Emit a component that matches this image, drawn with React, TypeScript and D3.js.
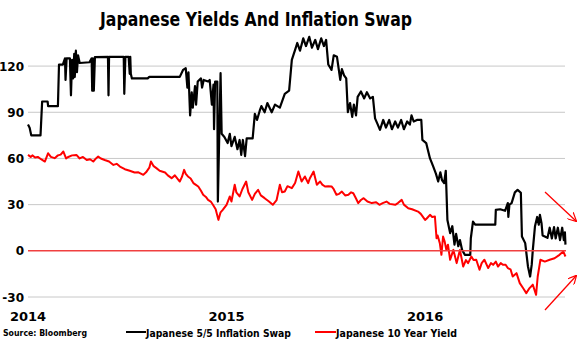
import React from "react";
import * as d3 from "d3";

const TITLE = "Japanese Yields And Inflation Swap";
const SOURCE = "Source: Bloomberg";
const SERIES_NAMES = ["Japanese 5/5 Inflation Swap", "Japanese 10 Year Yield"];
const Y_TICKS = [-30, 0, 30, 60, 90, 120];
const X_TICKS = ["2014-01-01", "2015-01-01", "2016-01-01"];

// Japanese 5/5 Inflation Swap (bp)
const swapSeries: [string, number][] = [
  ["2014-01-01", 82], ["2014-01-04", 80], ["2014-01-07", 75], ["2014-01-24", 75], ["2014-01-27", 97],
  ["2014-02-06", 97], ["2014-02-07", 94], ["2014-02-25", 94], ["2014-02-27", 121], ["2014-03-06", 121],
  ["2014-03-10", 125], ["2014-03-11", 111], ["2014-03-13", 125], ["2014-03-19", 125], ["2014-03-21", 101],
  ["2014-03-23", 124], ["2014-03-25", 112], ["2014-03-27", 128], ["2014-03-28", 113], ["2014-03-30", 130],
  ["2014-04-01", 116], ["2014-04-03", 127], ["2014-04-06", 122], ["2014-04-24", 122.5], ["2014-04-28", 125],
  ["2014-04-29", 104], ["2014-04-30", 125], ["2014-05-02", 104], ["2014-05-04", 125.8], ["2014-05-28", 126],
  ["2014-05-29", 101], ["2014-05-30", 126], ["2014-06-26", 126], ["2014-06-27", 102], ["2014-06-29", 126],
  ["2014-07-05", 126], ["2014-07-07", 115], ["2014-07-08", 126], ["2014-07-09", 115], ["2014-07-11", 112],
  ["2014-08-09", 112], ["2014-08-12", 113], ["2014-10-07", 113], ["2014-10-13", 117.5], ["2014-10-18", 118.6],
  ["2014-10-21", 106], ["2014-10-23", 116], ["2014-10-26", 88], ["2014-10-29", 103], ["2014-10-31", 93],
  ["2014-11-04", 107], ["2014-11-06", 95], ["2014-11-09", 110], ["2014-11-15", 112], ["2014-11-17", 106],
  ["2014-11-20", 111], ["2014-11-28", 110], ["2014-12-01", 111], ["2014-12-05", 95], ["2014-12-08", 108],
  ["2014-12-09", 79], ["2014-12-11", 110], ["2014-12-15", 110], ["2014-12-16", 32], ["2014-12-21", 115.4],
  ["2014-12-23", 76], ["2014-12-28", 74], ["2015-01-03", 70], ["2015-01-07", 76], ["2015-01-10", 68],
  ["2015-01-16", 74], ["2015-01-21", 66], ["2015-01-25", 72], ["2015-01-28", 62.3], ["2015-01-31", 72],
  ["2015-02-04", 61.5], ["2015-02-07", 73], ["2015-02-18", 73], ["2015-02-22", 89], ["2015-02-26", 85],
  ["2015-03-03", 91], ["2015-03-06", 94], ["2015-03-12", 90], ["2015-03-17", 96], ["2015-03-25", 90],
  ["2015-03-31", 95], ["2015-04-09", 93], ["2015-04-18", 102], ["2015-04-26", 104], ["2015-05-01", 124],
  ["2015-05-07", 130.5], ["2015-05-11", 135], ["2015-05-16", 130], ["2015-05-22", 138], ["2015-05-27", 133],
  ["2015-06-02", 139], ["2015-06-07", 132], ["2015-06-13", 137], ["2015-06-18", 131], ["2015-06-24", 138],
  ["2015-06-29", 133], ["2015-07-03", 137], ["2015-07-07", 121], ["2015-07-13", 117.5], ["2015-07-17", 127],
  ["2015-07-23", 126], ["2015-07-29", 111], ["2015-08-01", 118], ["2015-08-05", 114], ["2015-08-09", 112],
  ["2015-08-12", 90], ["2015-08-16", 96], ["2015-08-20", 87], ["2015-08-23", 95], ["2015-08-27", 88],
  ["2015-08-30", 100], ["2015-09-05", 103.5], ["2015-09-11", 99], ["2015-09-16", 103], ["2015-09-22", 99],
  ["2015-09-27", 100], ["2015-10-01", 86], ["2015-10-06", 82], ["2015-10-10", 78.6], ["2015-10-16", 85],
  ["2015-10-21", 80], ["2015-10-27", 85], ["2015-11-01", 79], ["2015-11-07", 84], ["2015-11-12", 80],
  ["2015-11-18", 85], ["2015-11-23", 79], ["2015-11-29", 84], ["2015-12-04", 82], ["2015-12-07", 88],
  ["2015-12-11", 84], ["2015-12-17", 85], ["2015-12-25", 85], ["2015-12-27", 72], ["2016-01-03", 70],
  ["2016-01-06", 65.6], ["2016-01-10", 60], ["2016-01-16", 54.7], ["2016-01-21", 50], ["2016-01-25", 45],
  ["2016-01-29", 51], ["2016-02-01", 46], ["2016-02-05", 44], ["2016-02-08", 52], ["2016-02-11", 20],
  ["2016-02-16", 11.5], ["2016-02-20", 16], ["2016-02-24", 4], ["2016-02-27", 11], ["2016-03-02", 3],
  ["2016-03-05", 7], ["2016-03-09", 0.6], ["2016-03-14", -2.6], ["2016-03-24", -2.6], ["2016-03-25", 8],
  ["2016-03-29", 19], ["2016-04-02", 17], ["2016-05-09", 17], ["2016-05-10", 26.6], ["2016-05-18", 27],
  ["2016-05-27", 26], ["2016-06-01", 31], ["2016-06-02", 22], ["2016-06-04", 30], ["2016-06-08", 31],
  ["2016-06-14", 38], ["2016-06-19", 39.6], ["2016-06-25", 37.7], ["2016-06-27", 9.3], ["2016-07-03", 5],
  ["2016-07-08", -10], ["2016-07-12", -16.7], ["2016-07-15", -9], ["2016-07-17", 0.6], ["2016-07-21", 16],
  ["2016-07-25", 22], ["2016-07-28", 17], ["2016-07-30", 23.4], ["2016-08-02", 18], ["2016-08-04", 10],
  ["2016-08-10", 9], ["2016-08-13", 8.4], ["2016-08-17", 15], ["2016-08-21", 8], ["2016-08-25", 15.4],
  ["2016-08-28", 8], ["2016-09-01", 15], ["2016-09-05", 7], ["2016-09-09", 15], ["2016-09-12", 7],
  ["2016-09-14", 12], ["2016-09-15", 4],
];

// Japanese 10 Year Yield (bp)
const yieldSeries: [string, number][] = [
  ["2014-01-01", 62.3], ["2014-01-06", 61], ["2014-01-09", 62], ["2014-01-14", 60.6], ["2014-01-19", 61],
  ["2014-01-25", 59.5], ["2014-02-01", 58], ["2014-02-07", 63.4], ["2014-02-12", 61], ["2014-02-19", 60.2],
  ["2014-02-25", 62], ["2014-03-02", 62.5], ["2014-03-07", 64.5], ["2014-03-12", 60], ["2014-03-15", 60.8],
  ["2014-03-23", 62], ["2014-03-31", 62.3], ["2014-04-06", 60], ["2014-04-12", 61], ["2014-04-19", 59],
  ["2014-04-25", 59.5], ["2014-05-01", 58], ["2014-05-06", 60], ["2014-05-10", 61.2], ["2014-05-15", 60],
  ["2014-05-22", 59], ["2014-05-30", 58], ["2014-06-07", 55.8], ["2014-06-13", 56.5], ["2014-06-19", 54.7],
  ["2014-06-28", 53], ["2014-07-07", 52], ["2014-07-16", 50.9], ["2014-07-23", 51], ["2014-08-01", 49.4],
  ["2014-08-06", 51], ["2014-08-12", 54], ["2014-08-15", 58], ["2014-08-20", 55], ["2014-08-25", 53.7],
  ["2014-08-31", 52], ["2014-09-10", 50.9], ["2014-09-15", 49], ["2014-09-22", 47.2], ["2014-09-28", 49],
  ["2014-10-07", 45], ["2014-10-11", 48], ["2014-10-15", 52.6], ["2014-10-18", 50], ["2014-10-22", 48.3],
  ["2014-10-27", 47], ["2014-11-01", 44], ["2014-11-05", 43], ["2014-11-10", 41.8], ["2014-11-15", 39],
  ["2014-11-19", 36.4], ["2014-11-24", 35], ["2014-11-28", 33.1], ["2014-12-03", 32], ["2014-12-07", 29.9],
  ["2014-12-12", 27], ["2014-12-17", 20.1], ["2014-12-21", 25], ["2014-12-25", 26.6], ["2015-01-01", 29.9],
  ["2015-01-07", 35.3], ["2015-01-10", 32], ["2015-01-16", 42.9], ["2015-01-19", 38], ["2015-01-25", 35.3],
  ["2015-01-30", 40], ["2015-02-06", 45], ["2015-02-10", 38], ["2015-02-17", 33.1], ["2015-02-22", 37],
  ["2015-02-28", 39.6], ["2015-03-05", 36], ["2015-03-12", 34.2], ["2015-03-20", 32], ["2015-03-27", 29.9],
  ["2015-04-03", 33], ["2015-04-09", 42.9], ["2015-04-13", 38], ["2015-04-18", 38.5], ["2015-04-23", 42],
  ["2015-05-01", 40.7], ["2015-05-07", 44], ["2015-05-13", 51.5], ["2015-05-19", 45], ["2015-05-25", 48.3],
  ["2015-05-31", 44], ["2015-06-03", 47], ["2015-06-10", 51.5], ["2015-06-16", 42.9], ["2015-06-22", 45],
  ["2015-06-26", 43], ["2015-07-01", 41.8], ["2015-07-07", 42], ["2015-07-13", 41.8], ["2015-07-17", 40],
  ["2015-07-22", 36.4], ["2015-07-27", 37], ["2015-08-01", 38.5], ["2015-08-07", 36], ["2015-08-13", 36.4],
  ["2015-08-18", 38], ["2015-08-22", 37.4], ["2015-08-27", 34], ["2015-08-31", 31], ["2015-09-05", 33],
  ["2015-09-10", 34.2], ["2015-09-17", 32], ["2015-09-25", 31], ["2015-10-03", 31.5], ["2015-10-09", 29.9],
  ["2015-10-15", 31], ["2015-10-22", 32], ["2015-10-28", 30.5], ["2015-11-07", 29.9], ["2015-11-12", 31],
  ["2015-11-19", 33.1], ["2015-11-23", 30], ["2015-12-01", 27.7], ["2015-12-08", 27], ["2015-12-19", 25.5],
  ["2015-12-24", 24], ["2016-01-01", 20.1], ["2016-01-04", 21], ["2016-01-10", 23.4], ["2016-01-14", 22],
  ["2016-01-19", 22.3], ["2016-01-22", 8.2], ["2016-01-24", 10], ["2016-01-28", 5], ["2016-01-31", -2.6],
  ["2016-02-03", 9.3], ["2016-02-06", 6], ["2016-02-09", 0.6], ["2016-02-12", 4], ["2016-02-16", -5.8],
  ["2016-02-22", 0.6], ["2016-02-28", -8], ["2016-03-05", 0.6], ["2016-03-11", -10.2], ["2016-03-16", -6],
  ["2016-03-20", -8], ["2016-03-26", -3.7], ["2016-03-30", -6], ["2016-04-04", -5.8], ["2016-04-10", -12.3],
  ["2016-04-14", -8], ["2016-04-19", -5.8], ["2016-04-26", -11.2], ["2016-05-01", -8], ["2016-05-05", -9.1],
  ["2016-05-10", -7], ["2016-05-14", -10.2], ["2016-05-19", -8], ["2016-05-23", -9.1], ["2016-05-28", -9],
  ["2016-06-01", -11.2], ["2016-06-06", -12], ["2016-06-10", -16.7], ["2016-06-17", -14.5], ["2016-06-23", -21],
  ["2016-06-29", -24.2], ["2016-07-05", -27.5], ["2016-07-11", -24.2], ["2016-07-17", -22], ["2016-07-23", -28.6],
  ["2016-07-26", -16.7], ["2016-07-31", -5.8], ["2016-08-08", -7], ["2016-08-17", -5.8], ["2016-08-26", -4.8],
  ["2016-09-04", -2.6], ["2016-09-11", -0.4], ["2016-09-15", -3.7],
];

const parse = d3.timeParse("%Y-%m-%d");

export default function App() {
  const W = 578;
  const H = 349;
  const x = d3.scaleTime()
    .domain([parse("2014-01-01")!, parse("2016-09-16")!])
    .range([28, 566]);
  const y = d3.scaleLinear().domain([-30, 140]).range([297, 35.3]);

  const line = d3.line<[string, number]>()
    .x((d) => x(parse(d[0])!))
    .y((d) => y(d[1]));

  const font = "'DejaVu Sans', sans-serif";

  return (
    <svg width={W} height={H} style={{ position: "absolute", left: 0, top: 0, background: "#fff" }}>
      <defs>
        <marker id="arr" viewBox="0 0 10 10" refX="9" refY="5" markerWidth="9" markerHeight="9" orient="auto" markerUnits="userSpaceOnUse">
          <path d="M0,0 L10,5 L0,10" fill="none" stroke="#ff0000" strokeWidth={1.3} />
        </marker>
      </defs>
      <rect x={0} y={0} width={W} height={H} fill="#fff" />
      <text x={256} y={26} textAnchor="middle" fontFamily={font} fontWeight="bold" fontSize={19.5}
        textLength={312} lengthAdjust="spacingAndGlyphs" fill="#000">{TITLE}</text>

      {Y_TICKS.filter((t) => t !== 0).map((t) => (
        <line key={t} x1={28} x2={565} y1={y(t)} y2={y(t)} stroke="#c8c8c8" strokeWidth={1} />
      ))}
      {Y_TICKS.map((t) => (
        <text key={"l" + t} x={24} y={y(t) + 4.5} textAnchor="end" fontFamily={font} fontWeight="bold"
          fontSize={12} fill="#000">{t}</text>
      ))}
      {X_TICKS.map((t) => (
        <text key={t} x={x(parse(t)!)} y={321} textAnchor="middle" fontFamily={font} fontWeight="bold"
          fontSize={13} fill="#000">{t.slice(0, 4)}</text>
      ))}

      <path d={line(swapSeries) || ""} fill="none" stroke="#000" strokeWidth={2.2} strokeLinejoin="round" />
      <path d={line(yieldSeries) || ""} fill="none" stroke="#ff0000" strokeWidth={2} strokeLinejoin="round" />
      <line x1={28} x2={566} y1={y(0)} y2={y(0)} stroke="#f04040" strokeWidth={1.5} />

      <line x1={545} y1={192} x2={576} y2={221} stroke="#ff0000" strokeWidth={1.3} markerEnd="url(#arr)" />
      <line x1={545} y1={310} x2={576} y2={276} stroke="#ff0000" strokeWidth={1.3} markerEnd="url(#arr)" />

      <text x={3} y={335.5} fontFamily={font} fontWeight="bold" fontSize={9.5} textLength={84}
        lengthAdjust="spacingAndGlyphs" fill="#000">{SOURCE}</text>
      <line x1={126} x2={146} y1={332} y2={332} stroke="#000" strokeWidth={2} />
      <text x={146} y={336.5} fontFamily={font} fontWeight="bold" fontSize={11} textLength={145}
        lengthAdjust="spacingAndGlyphs" fill="#000">{SERIES_NAMES[0]}</text>
      <line x1={315} x2={336} y1={332} y2={332} stroke="#ff0000" strokeWidth={2} />
      <text x={336} y={336.5} fontFamily={font} fontWeight="bold" fontSize={11} textLength={121}
        lengthAdjust="spacingAndGlyphs" fill="#000">{SERIES_NAMES[1]}</text>
    </svg>
  );
}
